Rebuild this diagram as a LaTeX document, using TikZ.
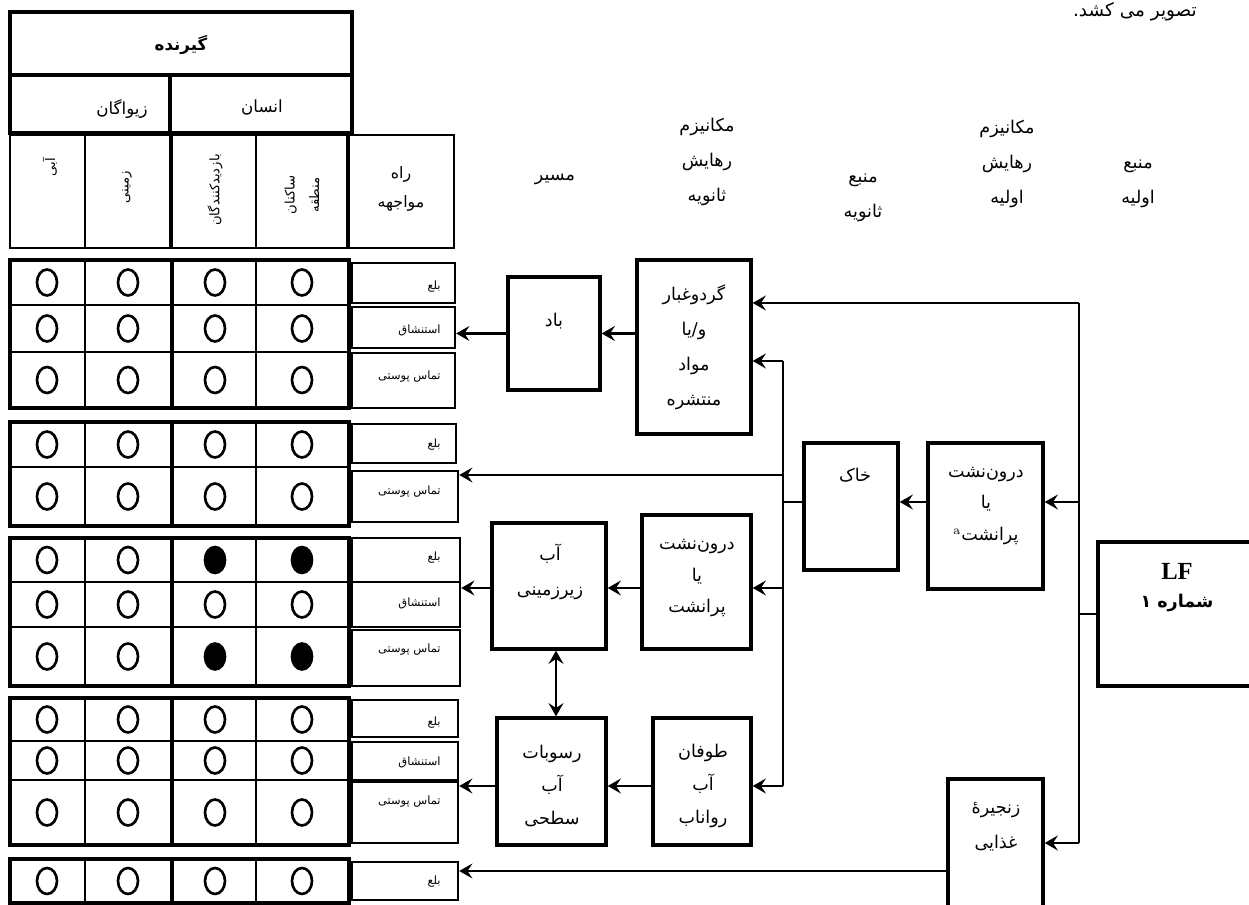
\documentclass[tikz,border=0pt]{standalone}
\usepackage{fontspec}
\usetikzlibrary{arrows.meta,positioning,fit}
\newfontfamily\farsifont[Script=Arabic]{DejaVu Sans}
\newfontfamily\timesfont{Liberation Serif}
\TeXXeTstate=1
\newcommand\fatext[1]{{\farsifont\beginR#1\endR}}

\tikzset{
  box/.style={draw, line width=1.9pt, inner sep=0pt},
  cellbox/.style={draw, line width=1.4pt, inner sep=0pt},
  txt/.style={inner sep=0pt, align=center, font=\fontsize{10}{20}\selectfont},
  small/.style={inner sep=0pt, align=center, font=\fontsize{6.5}{14}\selectfont},
  ring/.style={line width=1.5pt},
  link/.style={line width=1.2pt},
  arr/.style={line width=1.2pt, -{Stealth[length=7.5pt,width=8.5pt,inset=2.8pt]}},
  arrboth/.style={line width=1.2pt, {Stealth[length=7.5pt,width=8.5pt,inset=2.8pt]}-{Stealth[length=7.5pt,width=8.5pt,inset=2.8pt]}},
}

\begin{document}
\begin{tikzpicture}[x=0.02cm, y=-0.02cm]
\useasboundingbox (0,0) rectangle (1249,905);

% Text cut off at the top
\node[txt, font=\fontsize{10.5}{12}\selectfont] (cut) at (1135,12) {\fatext{تصویر می کشد.}};

% Receiver header
\node[box, fit={(10,12) (352,75)}] (recv) {};
\node[txt, font=\bfseries\fontsize{9.5}{12}\selectfont] (recv-t) at (181,45) {\fatext{گیرنده}};
\node[box, fit={(10,75) (170,133)}] (animals) {};
\node[txt, font=\fontsize{9.5}{12}\selectfont] (animals-t) at (122,109) {\fatext{زیواگان}};
\node[box, fit={(170,75) (352,133)}] (human) {};
\node[txt, font=\fontsize{9.5}{12}\selectfont] (human-t) at (262,108) {\fatext{انسان}};

% Column heads
\node[cellbox, fit={(10,135) (85,248)}] (hwater) {};
\node[cellbox, fit={(85,135) (172,248)}] (hland) {};
\node[cellbox, fit={(172,135) (256,248)}] (hvisit) {};
\node[cellbox, fit={(256,135) (349,248)}] (hlocal) {};
\node[cellbox, fit={(349,135) (454,248)}] (hroute) {};
\draw[line width=1.9pt] (hvisit.north west) -- (hvisit.south west);
\draw[line width=1.9pt] (hroute.north west) -- (hroute.south west);
\node[small, rotate=90, font=\fontsize{7.5}{14}\selectfont] (hwater-t) at (50,167) {\fatext{آبی}};
\node[small, rotate=90, font=\fontsize{7.5}{14}\selectfont] (hland-t) at (127,187) {\fatext{زمینی}};
\node[small, rotate=90, font=\fontsize{7.5}{14}\selectfont] (hvisit-t) at (215,190) {\fatext{بازدیدکنندگان}};
\node[small, rotate=90, font=\fontsize{7.5}{14}\selectfont] (hlocal-t) at (302,195) {\fatext{ساکنان}\\\fatext{منطقه}};
\node[txt, font=\fontsize{9}{16.5}\selectfont] (hroute-t) at (401,189) {\fatext{راه}\\\fatext{مواجهه}};

% Receiver rows
\foreach \ya/\yb in {260/305, 305/352, 352/408, 422/467, 467/526, 538/582, 582/627, 627/686, 698/741, 741/780, 780/845, 859/903} {
  \draw[line width=1.3pt] (10,\ya) rectangle (349,\yb);
  \foreach \x in {85,256} \draw[line width=1.3pt] (\x,\ya) -- (\x,\yb);
  \foreach \x in {47,128,215,302} \draw[ring] (\x,{(\ya+\yb)/2}) ellipse (10 and 13);
}
\foreach \ya/\yb in {260/408, 422/526, 538/686, 698/845, 859/903} {
  \draw[line width=1.9pt] (10,\ya) rectangle (349,\yb);
  \draw[line width=1.9pt] (172,\ya) -- (172,\yb);
}
\foreach \y in {560,656.5} \foreach \x in {215,302} \fill (\x,\y) ellipse (10 and 13);

% Exposure routes
\foreach \nm/\ya/\yb/\xb/\ty/\lab in {g1a/263/303/455/287/بلع, g1b/307/348/455/330/استنشاق, g1c/353/408/455/377/تماس پوستی,
    g2a/424/463/456/445/بلع, g2b/471/522/458/492/تماس پوستی,
    g3a/538/582/460/558/بلع, g3b/582/627/460/603/استنشاق, g3c/630/686/460/650/تماس پوستی,
    g4a/700/737/458/723/بلع, g4b/742/780/458/762/استنشاق, g4c/782/843/458/802/تماس پوستی,
    g5a/862/900/458/882/بلع} {
  \node[cellbox, fit={(352,\ya) (\xb,\yb)}] (\nm) {};
  \node[small, anchor=east] (\nm-t) at (441,\ty) {\fatext{\lab}};
}

% Column titles
\node[txt] (path) at (555,179) {\fatext{مسیر}};
\node[txt] (mech2) at (707,162) {\fatext{مکانیزم}\\\fatext{رهایش}\\\fatext{ثانویه}};
\node[txt] (src2) at (863,198) {\fatext{منبع}\\\fatext{ثانویه}};
\node[txt] (mech1) at (1007,164) {\fatext{مکانیزم}\\\fatext{رهایش}\\\fatext{اولیه}};
\node[txt] (src1) at (1138,184) {\fatext{منبع}\\\fatext{اولیه}};

% Boxes
\node[box, fit={(508,277) (600,390)}] (wind) {};
\node[txt] (wind-t) at (554,321) {\fatext{باد}};
\node[box, fit={(637,260) (751,434)}] (dust) {};
\node[txt] (dust-t) at (694,347) {\fatext{گردوغبار}\\\fatext{و/یا}\\\fatext{مواد}\\\fatext{منتشره}};
\node[box, fit={(804,443) (898,570)}] (soil) {};
\node[txt] (soil-t) at (855,475) {\fatext{خاک}};
\node[box, fit={(928,443) (1043,589)}] (perc1) {};
\node[txt, font=\fontsize{10}{18}\selectfont] (perc1-t) at (986,506) {\fatext{درون‌نشت}\\\fatext{یا}\\\textsuperscript{a}\fatext{پرانشت}};
\node[box, fit={(1098,542) (1262,686)}] (lf) {};
\node[txt, font=\fontsize{14}{16}\selectfont\bfseries] (lf-t) at (1177,571) {\timesfont LF};
\node[txt, font=\fontsize{10}{12}\selectfont\bfseries] (lf-n) at (1177,603) {\fatext{شماره ۱}};
\node[box, fit={(948,779) (1043,915)}] (food) {};
\node[txt] (food-t) at (996,827) {\fatext{زنجیرهٔ}\\\fatext{غذایی}};
\node[box, fit={(492,523) (606,649)}] (gw) {};
\node[txt] (gw-t) at (550,572) {\fatext{آب}\\\fatext{زیرزمینی}};
\node[box, fit={(642,515) (751,649)}] (perc2) {};
\node[txt, font=\fontsize{10}{18}\selectfont] (perc2-t) at (697,578) {\fatext{درون‌نشت}\\\fatext{یا}\\\fatext{پرانشت}};
\node[box, fit={(497,718) (606,845)}] (sed) {};
\node[txt, font=\fontsize{10}{19}\selectfont] (sed-t) at (552,786) {\fatext{رسوبات}\\\fatext{آب}\\\fatext{سطحی}};
\node[box, fit={(653,718) (751,845)}] (storm) {};
\node[txt, font=\fontsize{10}{19}\selectfont] (storm-t) at (703,786) {\fatext{طوفان}\\\fatext{آب}\\\fatext{رواناب}};

% Bus lines
\coordinate (bus1top) at (1079,303);
\coordinate (bus1perc) at (1079,502);
\coordinate (bus1bot) at (1079,843);
\coordinate (bus2top) at (783,361);
\coordinate (bus2out) at (783,475);
\coordinate (bus2perc) at (783,588);
\coordinate (bus2bot) at (783,786);
\coordinate (foodout) at (948,871);

\draw[link] (bus1top) -- (bus1bot);
\draw[arr] (bus1top) -- (bus1top -| dust.east);
\draw[arr] (bus1perc) -- (bus1perc -| perc1.east);
\draw[link] (lf.west) -- (lf.west -| bus1top);
\draw[arr] (bus1bot) -- (bus1bot -| food.east);
\draw[arr] (bus1perc -| perc1.west) -- (bus1perc -| soil.east);

\draw[link] (bus2top) -- (bus2bot);
\draw[arr] (bus2top) -- (bus2top -| dust.east);
\draw[link] (bus1perc -| soil.west) -- (bus1perc -| bus2top);
\draw[arr] (bus2out) -- (bus2out -| g2b.east);
\draw[arr] (bus2perc) -- (bus2perc -| perc2.east);
\draw[arr] (bus2perc -| perc2.west) -- (bus2perc -| gw.east);
\draw[arr] (bus2perc -| gw.west) -- (bus2perc -| g3b.east);
\draw[arrboth] ([xshift=0.14cm]gw.south) -- ([xshift=0.14cm]gw.south |- sed.north);
\draw[arr] (bus2bot) -- (bus2bot -| storm.east);
\draw[arr] (bus2bot -| storm.west) -- (bus2bot -| sed.east);
\draw[arr] (bus2bot -| sed.west) -- (bus2bot -| g4c.east);
\draw[arr] (foodout) -- (foodout -| g5a.east);

\draw[arr] (wind.west -| dust.west) -- (wind.east);
\draw[arr] (wind.west) -- (wind.west -| g1b.east);

\end{tikzpicture}
\end{document}
